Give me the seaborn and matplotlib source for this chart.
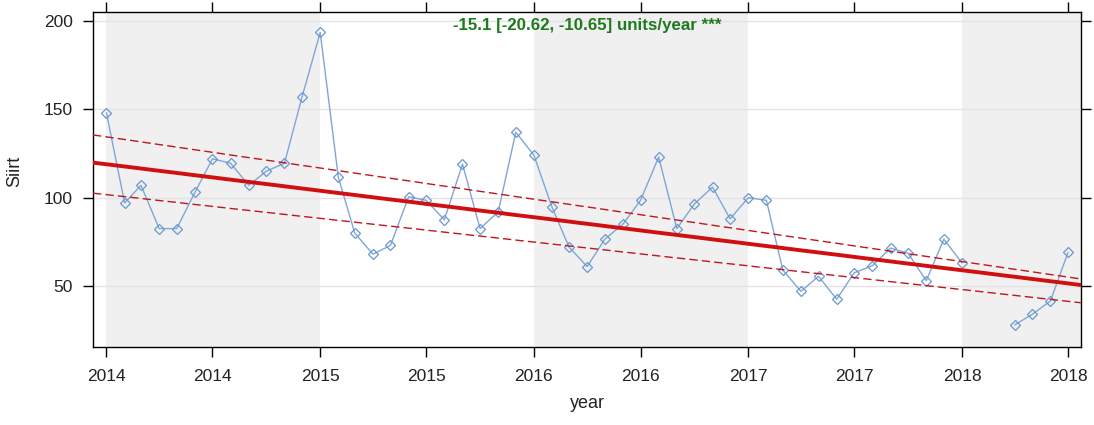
import pandas as pd
import numpy as np
import matplotlib
matplotlib.use("Agg")
import matplotlib.pyplot as plt
import matplotlib.dates as mdates
import seaborn as sns

# monthly Siirt values, Jan 2014 .. Jul 2018 (Feb/Mar 2018 missing)
vals_2014 = [148, 97, 107, 82.5, 82.5, 103, 122, 119.5, 107, 115, 119.5, 157]
vals_2015 = [193.5, 111.5, 80, 68, 73, 100.5, 98.5, 87.5, 119, 82.5, 92, 137]
vals_2016 = [124, 94.5, 72, 61, 76.5, 85, 98.5, 123, 82.5, 96.5, 106, 88]
vals_2017 = [100, 98.5, 59, 47, 55.5, 42.5, 57.5, 61.5, 71.5, 68.5, 53, 76.5]
vals_2018 = [63, np.nan, np.nan, 28, 34, 41.5, 69]

# Theil-Sen trend lines: value at start of 2014 and slope (units/year)
trend_start, trend_slope = 118.9, -15.0
upper_start, upper_slope = 134.4, -17.65
lower_start, lower_slope = 101.7, -13.43
trend_label = "-15.1 [-20.62, -10.65] units/year ***"

shaded_years = [2014, 2016, 2018]

values = vals_2014 + vals_2015 + vals_2016 + vals_2017 + vals_2018
df = pd.DataFrame({
    "date": pd.date_range("2014-01-01", periods=len(values), freq="MS"),
    "Siirt": values,
})
# split into runs at missing months so the line breaks there
df["run"] = df["Siirt"].isna().cumsum()
df = df.dropna()

sns.set_theme(style="white")
plt.rcParams["font.family"] = ["Liberation Sans", "DejaVu Sans"]

fig = plt.figure(figsize=(10.94, 4.25), dpi=100)
ax = fig.add_axes([0.085, 0.184, 0.903, 0.787])

x0 = pd.Timestamp("2013-12-09")
x1 = pd.Timestamp("2018-07-23")

for yr in shaded_years:
    ax.axvspan(pd.Timestamp(f"{yr}-01-01"), pd.Timestamp(f"{yr + 1}-01-01"),
               color="#f0f0f0", zorder=0, lw=0)

for yv in [50, 100, 150, 200]:
    ax.axhline(yv, color="#e4e4e4", lw=1, zorder=0.5)

sns.lineplot(data=df, x="date", y="Siirt", units="run", estimator=None, ax=ax,
             color="#7fa6d6", lw=1, marker="D", markersize=5,
             markerfacecolor="none", markeredgecolor="#6b97d0",
             markeredgewidth=0.9, zorder=3)

# trend lines
tx = pd.date_range(x0, x1, periods=50)
yrs = (tx - pd.Timestamp("2014-01-01")).days / 365.25
ax.plot(tx, trend_start + trend_slope * yrs, color="#d01010", lw=2.8, zorder=4)
ax.plot(tx, upper_start + upper_slope * yrs, color="#c0141e", lw=1, ls=(0, (6, 3)), zorder=4)
ax.plot(tx, lower_start + lower_slope * yrs, color="#c0141e", lw=1, ls=(0, (6, 3)), zorder=4)

ax.text(0.5, 0.982, trend_label, transform=ax.transAxes, ha="center", va="top",
        color="#1f7a1f", fontsize=12.2, fontweight="bold", zorder=5)

ax.set_xlim(x0, x1)
ax.set_ylim(15.6, 204.9)
ax.set_yticks([50, 100, 150, 200])
ax.xaxis.set_major_locator(mdates.MonthLocator(bymonth=[1, 7]))
ax.xaxis.set_major_formatter(mdates.DateFormatter("%Y"))

ax.tick_params(axis="both", which="major", direction="out", length=7.5, width=1,
               color="black", labelsize=12.5, labelcolor="#222222",
               top=True, right=True, bottom=True, left=True)
ax.tick_params(axis="x", pad=8.5)
ax.tick_params(axis="y", pad=7)
for s in ax.spines.values():
    s.set_color("black")
    s.set_linewidth(1)

ax.set_xlabel("year", fontsize=13, color="#222222", labelpad=8)
ax.set_ylabel("Siirt", fontsize=13, color="#222222")
ax.yaxis.set_label_coords(-0.071, 0.525)

fig.savefig("out.png", dpi=100)
